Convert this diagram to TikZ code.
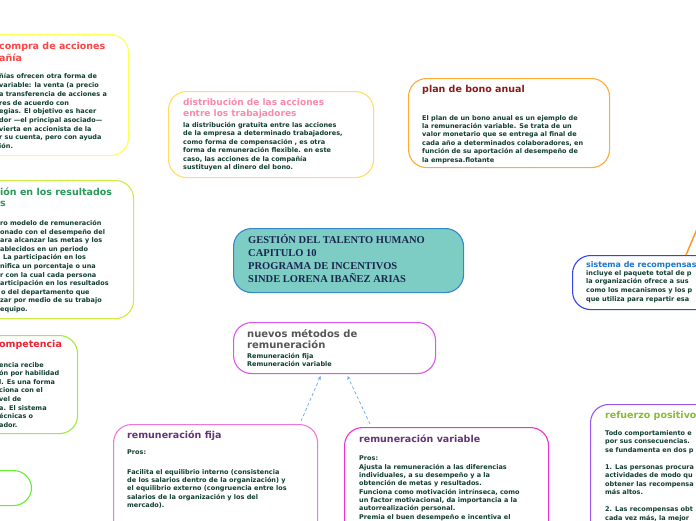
\documentclass[tikz,border=0pt]{standalone}
\usepackage{fontspec}
\setmainfont{DejaVu Sans}
\newfontfamily\titleserif{Liberation Serif}
\usetikzlibrary{arrows.meta}
\definecolor{cBody}{HTML}{0F3D30}
\definecolor{bYellow}{HTML}{FFFF55}
\definecolor{bLime}{HTML}{CCEE44}
\definecolor{bGreen}{HTML}{99EE44}
\definecolor{bGreenB}{HTML}{66EE33}
\definecolor{bGold}{HTML}{FFDD66}
\definecolor{bOrange}{HTML}{FFAA33}
\definecolor{bTealFill}{HTML}{7ECDC4}
\definecolor{bTealDraw}{HTML}{3388CC}
\definecolor{bMagenta}{HTML}{DD55EE}
\definecolor{bPink}{HTML}{EE77DD}
\definecolor{bHot}{HTML}{EE33CC}
\definecolor{bBlue}{HTML}{3344EE}
\definecolor{bPurple}{HTML}{9955EE}
\definecolor{tRed}{HTML}{FF4444}
\definecolor{tGreen}{HTML}{2A9A5A}
\definecolor{tRed2}{HTML}{EE2233}
\definecolor{tPinkT}{HTML}{FF88AA}
\definecolor{tDarkRed}{HTML}{8B1A1A}
\definecolor{tNavy}{HTML}{1A2550}
\definecolor{tGray}{HTML}{555555}
\definecolor{tPurple}{HTML}{663377}
\definecolor{tBlue}{HTML}{1A77CC}
\definecolor{tOlive}{HTML}{88BB33}
\definecolor{lBlue}{HTML}{66AAEE}
\definecolor{lOrange}{HTML}{FF9922}
\newcommand\bodyfont{\bfseries\fontsize{6.5}{8.5}\selectfont}
\newcommand\titlefont{\bfseries\fontsize{9.5}{11.5}\selectfont}
\begin{document}
\begin{tikzpicture}[x=1pt,y=-1pt,
  box/.style={draw, rounded corners=18pt, line width=1.1pt, inner sep=0pt, anchor=north west, fill=white},
  bodytxt/.style={anchor=north west, inner sep=0pt, align=left, font=\bodyfont, text=cBody},
  titletxt/.style={anchor=north west, inner sep=0pt, align=left, font=\titlefont},
  conn/.style={draw=lBlue, dashed, dash pattern=on 3pt off 2.5pt, line width=0.7pt, -{Stealth[length=3.5pt,width=3.5pt]}}]
\useasboundingbox (0,0) rectangle (696,520);
\clip (0,0) rectangle (696,520);
\fill[white] (0,0) rectangle (696,520);

% --- left column boxes ---
\node[box, draw=bYellow, minimum width=188pt, minimum height=121pt] (compra) at (-60,34) {};
\node[titletxt, text=tRed] (compraT) at (-1,42.5) {compra de acciones\\añía};
\node[bodytxt, font=\bfseries\fontsize{6.5}{8.7}\selectfont] (compraB) at (-1,73.5) {ñías ofrecen otra forma de\\variable: la venta (a precio\\a transferencia de acciones a\\res de acuerdo con\\egias. El objetivo es hacer\\dor —el principal asociado—\\vierta en accionista de la\\r su cuenta, pero con ayuda\\ión.};

\node[box, draw=bLime, minimum width=193pt, minimum height=138pt] (result) at (-60,180) {};
\node[titletxt, text=tGreen] (resultT) at (0,187.5) {ión en los resultados\\s};
\node[bodytxt, font=\bfseries\fontsize{6.5}{8.6}\selectfont] (resultB) at (0,220) {ro modelo de remuneración\\onado con el desempeño del\\ara alcanzar las metas y los\\ablecidos en un periodo\\\hspace*{3pt}La participación en los\\nifica un porcentaje o una\\r con la cual cada persona\\articipación en los resultados\\\hspace*{1pt}o del departamento que\\zar por medio de su trabajo\\equipo.};

\node[box, draw=bGreen, minimum width=137pt, minimum height=98pt] (compet) at (-60,335) {};
\node[titletxt, text=tRed2] (competT) at (-1,340.5) {ompetencia};
\node[bodytxt, font=\bfseries\fontsize{6.5}{8.6}\selectfont] (competB) at (-1,362) {encia recibe\\ón por habilidad\\l. Es una forma\\ciona con el\\vel de\\a. El sistema\\écnicas o\\ador.};

\node[box, draw=bGreenB, minimum width=91pt, minimum height=35pt] (lowleft) at (-60,470) {};

% --- top boxes ---
\node[box, draw=bGold, minimum width=205pt, minimum height=86pt] (distrib) at (168,91) {};
\node[titletxt, text=tPinkT, font=\bfseries\fontsize{9}{11}\selectfont] (distribT) at (183,98.5) {distribución de las acciones\\entre los trabajadores};
\node[bodytxt, font=\bfseries\fontsize{6.5}{8.4}\selectfont] (distribB) at (183,122) {la distribución gratuita entre las acciones\\de la empresa a determinado trabajadores,\\como forma de compensación , es otra\\forma de remuneración flexible. en este\\caso, las acciones de la compañía\\sustituyen al dinero del bono.};

\node[box, draw=bOrange, minimum width=201pt, minimum height=89pt] (bono) at (408,78) {};
\node[titletxt, text=tDarkRed] (bonoT) at (422,85) {plan de bono anual};
\node[bodytxt, font=\bfseries\fontsize{6.5}{8.4}\selectfont] (bonoB) at (422,115) {El plan de un bono anual es un ejemplo de\\la remuneración variable. Se trata de un\\valor monetario que se entrega al final de\\cada año a determinados colaboradores, en\\función de su aportación al desempeño de\\la empresa.flotante};

% --- central ---
\node[box, draw=bTealDraw, fill=bTealFill, minimum width=230pt, minimum height=64pt] (center) at (233,228) {};
\node[anchor=north west, inner sep=0pt, align=left, text=tNavy, font=\titleserif\bfseries\fontsize{10.5}{13}\selectfont] (centerT) at (248,234.5) {GESTIÓN DEL TALENTO HUMANO\\CAPITULO 10\\PROGRAMA DE INCENTIVOS\\SINDE LORENA IBAÑEZ ARIAS};

\node[box, draw=bMagenta, minimum width=202pt, minimum height=51pt] (nuevos) at (233,322) {};
\node[titletxt, text=tGray, font=\bfseries\fontsize{10}{11.5}\selectfont] (nuevosT) at (247,329) {nuevos métodos de\\remuneración};
\node[bodytxt, font=\bfseries\fontsize{6.5}{8}\selectfont] (nuevosB) at (247,353) {Remuneración fija\\Remuneración variable};

% --- bottom boxes ---
\node[box, draw=bPink, minimum width=204pt, minimum height=150pt] (fija) at (113,424) {};
\node[titletxt, text=tPurple] (fijaT) at (127,430.5) {remuneración fija};
\node[bodytxt, font=\bfseries\fontsize{6.5}{8.4}\selectfont] (fijaB) at (127,450) {Pros:\\[2.4pt]\\Facilita el equilibrio interno (consistencia\\de los salarios dentro de la organización) y\\el equilibrio externo (congruencia entre los\\salarios de la organización y los del\\mercado).};

\node[box, draw=bHot, minimum width=204pt, minimum height=150pt] (variable) at (344,427) {};
\node[titletxt, text=tPurple] (variableT) at (359,434.5) {remuneración variable};
\node[bodytxt, font=\bfseries\fontsize{6.5}{8.33}\selectfont] (variableB) at (359,456) {Pros:\\Ajusta la remuneración a las diferencias\\individuales, a su desempeño y a la\\obtención de metas y resultados.\\Funciona como motivación intrínseca, como\\un factor motivacional, da importancia a la\\autorrealización personal.\\Premia el buen desempeño e incentiva el};

% --- right boxes ---
\node[box, draw=bBlue, minimum width=200pt, minimum height=54pt] (sistema) at (572,255) {};
\node[titletxt, text=tBlue, font=\bfseries\fontsize{7.9}{10}\selectfont] (sistemaT) at (586,261) {sistema de recompensas};
\node[bodytxt, font=\bfseries\fontsize{6.5}{8.7}\selectfont] (sistemaB) at (586,270) {incluye el paquete total de p\\la organización ofrece a sus\\como los mecanismos y los p\\que utiliza para repartir esa};

\node[box, draw=bPurple, minimum width=200pt, minimum height=150pt] (refuerzo) at (590,404) {};
\node[titletxt, text=tOlive] (refuerzoT) at (605,411.5) {refuerzo positivo};
\node[bodytxt, font=\bfseries\fontsize{6.5}{8.5}\selectfont] (refuerzoB) at (605,430) {Todo comportamiento e\\por sus consecuencias.\\se fundamenta en dos p\\[8.5pt]1. Las personas procura\\actividades de modo qu\\obtener las recompensa\\más altos.\\[8.5pt]2. Las recompensas obt\\cada vez más, la mejor};

% --- connectors ---
\coordinate (nuevosL) at ([xshift=-14pt,yshift=-2pt]nuevos.south);
\coordinate (nuevosR) at ([xshift=13pt,yshift=-2pt]nuevos.south);
\coordinate (fijaEnd) at ([xshift=-17pt,yshift=3pt]fija.north east);
\coordinate (varEnd) at ([xshift=26pt,yshift=3pt]variable.north west);
\draw[conn] (fijaEnd) -- (nuevosL);
\draw[conn] (varEnd) -- (nuevosR);

\coordinate (sisTop) at ([xshift=114pt]sistema.north west);
\coordinate (offRight) at (706,208);
\draw[lOrange, line width=1.5pt] (sisTop) -- (offRight);
\end{tikzpicture}
\end{document}
